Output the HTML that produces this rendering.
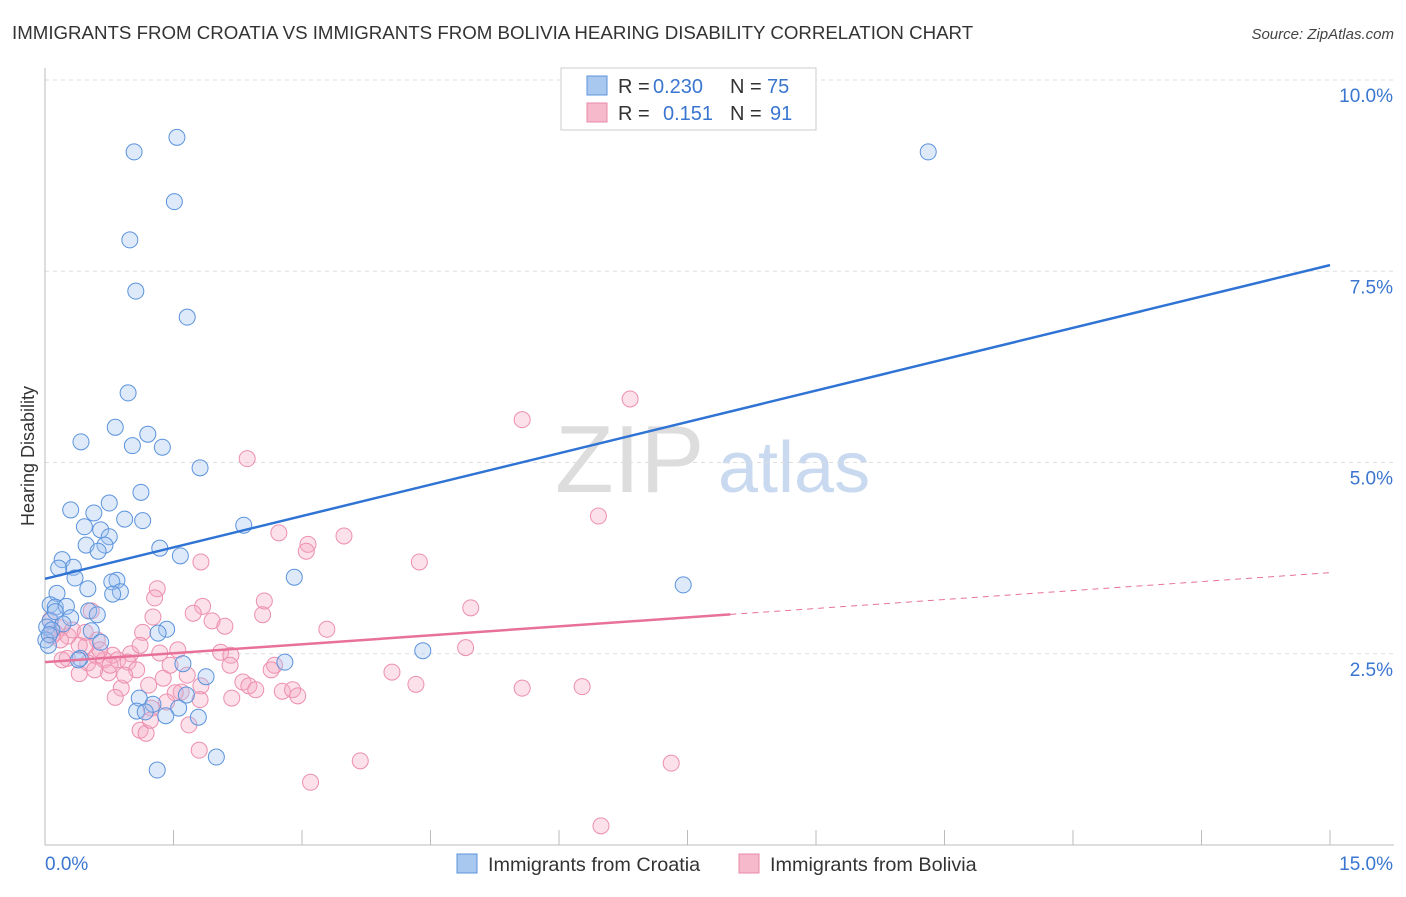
<!DOCTYPE html>
<html><head><meta charset="utf-8"><style>
body{margin:0;background:#fff;font-family:"Liberation Sans",sans-serif;}
svg text{font-family:"Liberation Sans",sans-serif;}
</style></head><body>
<svg id="chart" width="1406" height="892" xmlns="http://www.w3.org/2000/svg">
<text x="12" y="39" font-size="18.7" fill="#333">IMMIGRANTS FROM CROATIA VS IMMIGRANTS FROM BOLIVIA HEARING DISABILITY CORRELATION CHART</text>
<text x="1394" y="39" font-size="15" fill="#444" text-anchor="end" font-style="italic">Source: ZipAtlas.com</text>
<text x="555" y="492" font-size="96" fill="#ddd" font-family="Liberation Serif">ZIP</text>
<text x="718" y="492" font-size="72" fill="#c9d9f0">atlas</text>
<text transform="translate(34,456) rotate(-90)" font-size="18" fill="#333" text-anchor="middle">Hearing Disability</text>
<g id="grid"></g><g id="pts"></g><g id="lines"></g>
<g>
<rect x="561" y="68" width="255" height="62" fill="#fff" stroke="#ccc"/>
<rect x="587" y="76" width="20" height="19" fill="#a9c8f0" stroke="#5b93dc"/>
<rect x="587" y="103" width="20" height="19" fill="#f6b8cb" stroke="#e88aa8"/>
<text x="618" y="93" font-size="20" fill="#333">R =</text>
<text x="653" y="93" font-size="20" fill="#3a76d0">0.230</text>
<text x="730" y="93" font-size="20" fill="#333">N =</text>
<text x="767" y="93" font-size="20" fill="#3a76d0">75</text>
<text x="618" y="120" font-size="20" fill="#333">R =</text>
<text x="663" y="120" font-size="20" fill="#3a76d0">0.151</text>
<text x="730" y="120" font-size="20" fill="#333">N =</text>
<text x="770" y="120" font-size="20" fill="#3a76d0">91</text>
</g>
<g>
<rect x="457" y="854" width="20" height="19" fill="#a9c8f0" stroke="#5b93dc"/>
<text x="488" y="871" font-size="19.8" fill="#333">Immigrants from Croatia</text>
<rect x="739" y="854" width="20" height="19" fill="#f6b8cb" stroke="#e88aa8"/>
<text x="770" y="871" font-size="19.8" fill="#333">Immigrants from Bolivia</text>
</g>
</svg>
<script>
const xTicks=[0,1.5,3,4.5,6,7.5,9,10.5,12,13.5,15];
const yTicks=[2.5,5,7.5,10];
const yTickLabels=["2.5%","5.0%","7.5%","10.0%"];
const xEndLabels=["0.0%","15.0%"];
const croatiaX=[1.04,1.54,1.51,0.99,1.06,1.66,0.97,0.82,0.42,1.02,1.20,1.37,1.81,1.12,0.75,0.30,0.57,0.93,1.14,0.46,0.65,2.32,0.75,0.48,0.70,0.62,1.34,1.58,0.20,0.33,0.16,0.35,0.84,0.78,2.91,0.50,0.88,0.79,0.14,0.06,0.12,0.25,0.51,0.61,0.30,0.06,0.21,0.02,0.08,0.54,1.42,1.32,0.01,0.65,0.41,1.61,2.80,4.41,7.45,10.31,1.88,1.65,1.10,1.26,1.07,1.17,1.56,1.41,1.79,1.31,2.00,0.05,0.12,0.04,0.39];
const croatiaY=[9.06,9.25,8.41,7.91,7.24,6.90,5.91,5.46,5.27,5.22,5.37,5.20,4.93,4.61,4.47,4.38,4.34,4.26,4.24,4.16,4.12,4.18,4.03,3.92,3.92,3.84,3.88,3.78,3.73,3.63,3.62,3.49,3.46,3.44,3.50,3.35,3.31,3.28,3.29,3.14,3.11,3.12,3.06,3.01,2.97,2.93,2.89,2.85,2.81,2.80,2.82,2.77,2.68,2.65,2.44,2.37,2.39,2.54,3.40,9.06,2.20,1.96,1.92,1.84,1.75,1.74,1.79,1.69,1.67,0.98,1.15,2.75,3.05,2.61,2.42];
const boliviaX=[6.83,5.57,2.36,6.46,2.73,3.49,3.07,3.05,1.82,4.37,1.31,1.28,4.97,2.56,1.84,1.73,2.54,1.26,1.95,2.10,3.29,0.54,1.14,0.19,0.12,0.27,0.61,0.48,0.40,4.91,1.55,0.79,1.00,1.34,2.05,2.17,0.60,0.26,0.69,0.85,0.50,0.97,2.68,2.64,1.07,0.74,0.40,1.38,1.66,2.31,2.38,1.82,1.21,0.89,4.05,4.33,5.57,6.27,2.46,2.77,2.89,2.95,1.59,1.52,2.18,0.82,1.42,1.24,1.68,1.11,1.18,1.80,3.68,7.31,3.10,6.49,0.06,0.08,0.18,0.32,0.64,0.76,0.93,1.11,1.46,1.81,2.16,1.23,0.47,0.20,0.58];
const boliviaY=[5.83,5.56,5.05,4.30,4.08,4.04,3.93,3.84,3.70,3.70,3.35,3.23,3.10,3.19,3.12,3.03,3.01,2.98,2.93,2.86,2.82,3.06,2.78,2.84,2.77,2.73,2.68,2.60,2.61,2.58,2.55,2.48,2.50,2.51,2.52,2.48,2.47,2.44,2.42,2.42,2.38,2.39,2.35,2.29,2.29,2.25,2.24,2.18,2.22,2.13,2.08,2.08,2.09,2.05,2.26,2.10,2.05,2.07,2.03,2.01,2.03,1.95,2.00,1.99,1.92,1.93,1.87,1.79,1.57,1.50,1.46,1.24,1.10,1.07,0.82,0.25,2.94,2.73,2.68,2.81,2.55,2.35,2.22,2.61,2.35,1.90,2.35,1.63,2.78,2.42,2.29];
const croatiaTrend=[3.48,7.58];
const boliviaTrend=[2.39,3.56];
const boliviaSolidEnd=8.0;
const NS="http://www.w3.org/2000/svg";
const sx=v=>45+v*(1285/15);
const sy=v=>845-v*76.5;
function mk(tag,attrs,parent){const e=document.createElementNS(NS,tag);for(const k in attrs)e.setAttribute(k,attrs[k]);parent.appendChild(e);return e;}
const grid=document.getElementById('grid');
yTicks.forEach((t,i)=>{
 const l=mk('line',{x1:45,x2:1394,y1:sy(t),y2:sy(t),stroke:'#ddd','stroke-dasharray':'4,4'},grid);
 
 
 const tx=mk('text',{x:1393,y:sy(t)+22,'font-size':19,fill:'#3a76d0','text-anchor':'end'},grid);
 tx.textContent=yTickLabels[i];
 
 
});
const ax=mk('line',{x1:45,x2:45,y1:68,y2:845,stroke:'#bbb'},grid);


const bx=mk('line',{x1:45,x2:1394,y1:845,y2:845,stroke:'#bbb'},grid);


xTicks.forEach(t=>{
 const l=mk('line',{x1:sx(t),x2:sx(t),y1:830,y2:845,stroke:'#bbb'},grid);
 
 
});
const xl0=mk('text',{x:45,y:870,'font-size':19,fill:'#3a76d0'},grid);xl0.textContent=xEndLabels[0];


const xl1=mk('text',{x:1393,y:870,'font-size':19,fill:'#3a76d0','text-anchor':'end'},grid);xl1.textContent=xEndLabels[1];


const pts=document.getElementById('pts');
boliviaX.forEach((x,i)=>{
 const c=mk('circle',{cx:sx(x),cy:sy(boliviaY[i]),r:8,fill:'rgba(246,170,195,0.35)',stroke:'#ec8fae','stroke-width':1},pts);
 
 
});
croatiaX.forEach((x,i)=>{
 const c=mk('circle',{cx:sx(x),cy:sy(croatiaY[i]),r:8,fill:'rgba(160,195,240,0.35)',stroke:'#5b93dc','stroke-width':1},pts);
 
 
});
const lines=document.getElementById('lines');
const bl=mk('line',{x1:sx(0),y1:sy(croatiaTrend[0]),x2:sx(15),y2:sy(croatiaTrend[1]),stroke:'#2f74d4','stroke-width':2.5},lines);


const pAt=x=>boliviaTrend[0]+(boliviaTrend[1]-boliviaTrend[0])*x/15;
const pl=mk('line',{x1:sx(0),y1:sy(pAt(0)),x2:sx(boliviaSolidEnd),y2:sy(pAt(boliviaSolidEnd)),stroke:'#e8719a','stroke-width':2.5},lines);


const pd=mk('line',{x1:sx(boliviaSolidEnd),y1:sy(pAt(boliviaSolidEnd)),x2:sx(15),y2:sy(pAt(15)),stroke:'#e8719a','stroke-width':1,'stroke-dasharray':'6,5'},lines);


</script>
</body></html>
